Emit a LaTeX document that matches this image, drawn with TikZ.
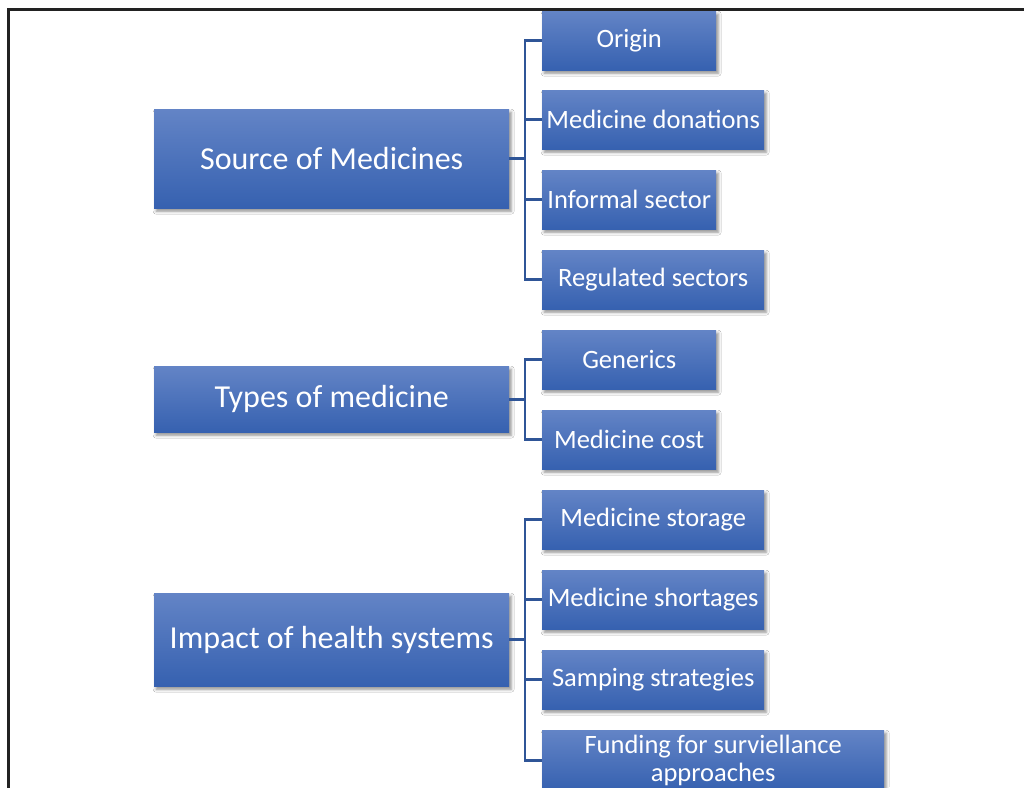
\documentclass[tikz,border=0pt]{standalone}
\usepackage{fontspec}
\setmainfont{Carlito}
\usetikzlibrary{shadows.blur,positioning}
\definecolor{boxtop}{HTML}{6384C6}
\definecolor{boxbot}{HTML}{3661B0}
\definecolor{linkblue}{HTML}{2F5597}
\definecolor{framegray}{HTML}{222222}
\tikzset{
  x=1pt, y=-1pt,
  basebox/.style={anchor=north west, inner sep=0pt, rectangle,
    top color=boxtop, bottom color=boxbot, text=white, align=center,
    blur shadow={shadow xshift=2pt, shadow yshift=-3pt,
      shadow blur radius=3pt, shadow opacity=45}},
  parentbox/.style={basebox, minimum width=355pt, font=\fontsize{32}{36}\selectfont},
  childbox/.style={basebox, minimum height=59pt, font=\fontsize{26.5}{28}\selectfont},
  narrow/.style={childbox, minimum width=174pt},
  wide/.style={childbox, minimum width=222pt},
  link/.style={draw=linkblue, line width=2.6pt},
}
\newcommand{\branch}[2]{\draw[link] (#1.east) -| ([xshift=-17pt]#2.west) -- (#2.west);}
\begin{document}
\begin{tikzpicture}
\useasboundingbox (0,0) rectangle (1024,787);
\clip (0,0) rectangle (1024,787);
\fill[white] (0,0) rectangle (1024,787);

% outer frame
\draw[framegray, line width=3pt] (1040,9.5) -- (8.5,9.5) -- (8.5,800);

% main categories
\node[parentbox, minimum height=99pt] (src) at (154,109) {Source of Medicines};
\node[parentbox, minimum height=66pt] (typ) at (154,366) {Types of medicine};
\node[parentbox, minimum height=93pt] (imp) at (154,593) {Impact of health systems};

% sub-items
\node[narrow] (orig) at (542,11)  {Origin};
\node[wide]   (don)  at (542,90)  {Medicine donations};
\node[narrow] (inf)  at (542,170) {Informal sector};
\node[wide]   (reg)  at (542,250) {Regulated sectors};
\node[narrow] (gen)  at (542,330) {Generics};
\node[narrow] (cost) at (542,410) {Medicine cost};
\node[wide]   (stor) at (542,490) {Medicine storage};
\node[wide]   (shor) at (542,570) {Medicine shortages};
\node[wide]   (samp) at (542,650) {Samping strategies};
\node[childbox, minimum width=342pt, minimum height=60pt] (fund) at (542,730)
  {Funding for surviellance\\approaches};

% connectors
\foreach \c in {orig,don,inf,reg} {\branch{src}{\c}}
\foreach \c in {gen,cost} {\branch{typ}{\c}}
\foreach \c in {stor,shor,samp,fund} {\branch{imp}{\c}}
\end{tikzpicture}
\end{document}
